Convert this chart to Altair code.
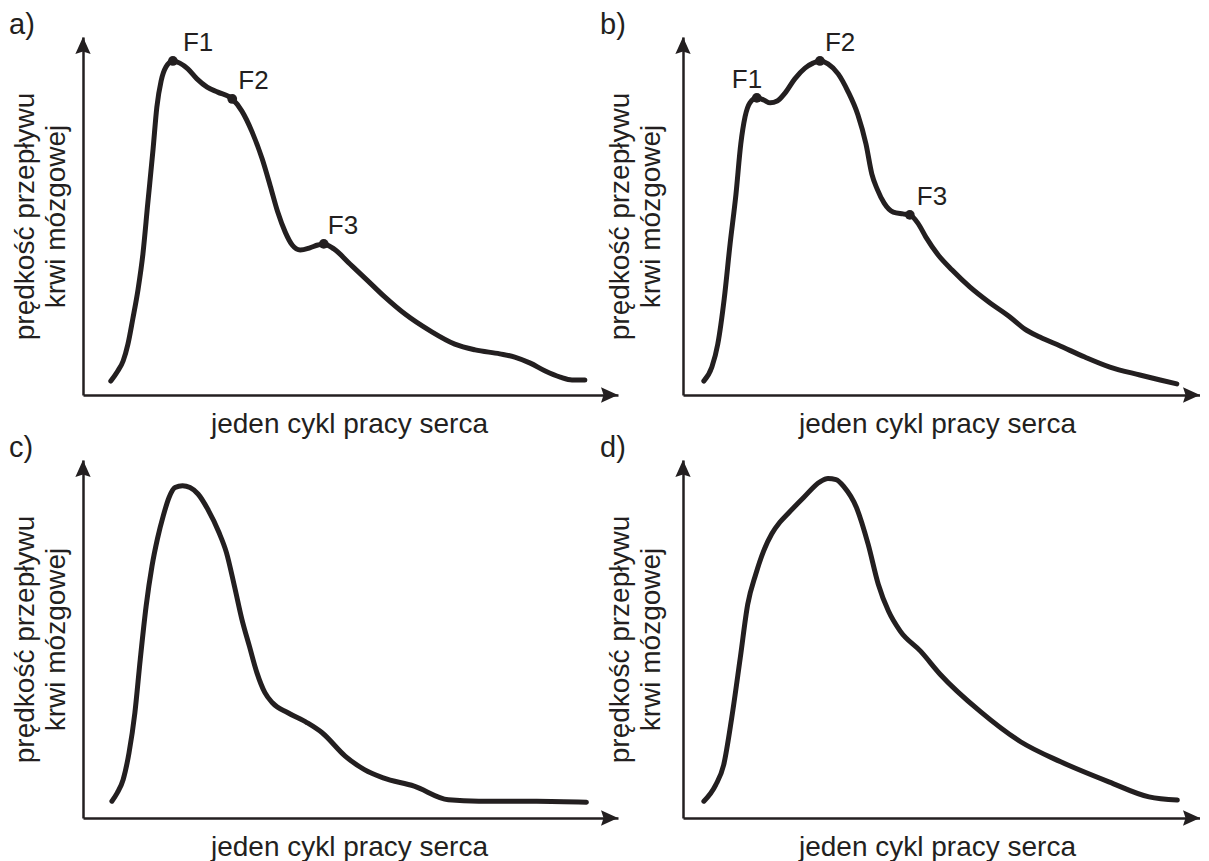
import altair as alt
import pandas as pd

FONT = "Liberation Sans"
INK = "#231f20"

# ---------------- data (x: % of heart cycle, y: relative flow velocity) ----------------
a_x = [5.2, 6.5, 7.5, 8.4, 9.3, 10.3, 11.2, 12.1, 13.1, 13.8, 14.6, 15.5, 16.8, 18.1, 19.6,
       21.3, 23.2, 25.2, 27.9, 29.7, 31.6, 33.5, 35.0, 36.4, 37.8, 39.1, 40.6, 42.4, 43.9,
       45.0, 46.9, 49.9, 53.1, 56.4, 60.2, 64.9, 69.5, 73.3, 77.9, 80.7, 83.6, 86.4, 89.2,
       91.4, 93.8]
a_y = [3.9, 6.7, 9.5, 14.2, 21.2, 29.6, 39.4, 53.4, 68.7, 80.4, 87.7, 91.6, 93.3, 92.7, 91.1,
       88.3, 86.0, 84.6, 82.7, 79.3, 73.5, 65.9, 58.4, 51.1, 45.5, 41.9, 40.5, 41.1, 41.9,
       42.2, 40.8, 36.6, 32.1, 27.4, 22.6, 17.9, 14.2, 12.6, 11.5, 10.6, 8.9, 6.7, 5.0,
       4.2, 4.2]
a_fx = [16.8, 27.9, 45.0]
a_fy = [93.3, 82.7, 42.2]
a_flab = ["F1", "F2", "F3"]

b_x = [3.9, 5.4, 6.5, 7.7, 8.8, 9.9, 10.8, 11.6, 12.5, 13.8, 15.1, 16.3, 17.6, 19.1, 20.9,
       22.8, 24.3, 25.6, 27.1, 29.0, 30.8, 32.7, 34.2, 35.3, 36.3, 37.6, 39.3, 41.1, 42.4,
       43.9, 45.4, 47.7, 50.3, 53.6, 57.4, 61.1, 63.9, 66.7, 70.5, 75.1, 79.8, 85.4, 89.2,
       92.3]
b_y = [3.9, 7.8, 14.2, 26.8, 42.2, 56.1, 70.1, 77.7, 81.6, 83.0, 82.4, 81.6, 82.1, 84.4, 88.3,
       91.3, 92.7, 93.3, 92.5, 89.7, 84.9, 78.2, 70.1, 61.7, 57.5, 53.6, 51.1, 50.6, 50.3,
       48.0, 44.1, 39.1, 34.9, 30.2, 25.7, 21.8, 18.4, 16.2, 13.7, 10.6, 7.8, 5.6, 4.2,
       3.1]
b_fx = [13.8, 25.6, 42.4]
b_fy = [83.0, 93.3, 50.3]
b_flab = ["F1", "F2", "F3"]

c_x = [5.4, 6.4, 7.5, 8.6, 9.7, 10.7, 11.8, 12.9, 13.9, 15.0, 16.1, 17.2, 18.6, 20.0, 21.5,
       23.3, 25.4, 26.8, 28.3, 29.7, 31.1, 32.5, 34.0, 35.4, 38.3, 41.9, 44.7, 49.0, 52.6,
       56.1, 61.9, 68.3, 74.0, 84.8, 94.1]
c_y = [4.7, 7.0, 10.7, 18.2, 29.4, 44.3, 59.2, 70.4, 77.9, 84.4, 89.6, 92.3, 92.8, 92.3, 90.5,
       86.3, 79.8, 74.2, 64.8, 55.5, 48.0, 40.6, 35.0, 32.2, 29.4, 26.6, 23.8, 17.3, 13.5,
       11.2, 8.9, 5.1, 4.7, 4.7, 4.4]

d_x = [3.9, 6.1, 7.6, 9.1, 10.7, 12.1, 13.6, 15.1, 16.6, 18.1, 19.6, 22.6, 25.6, 27.1, 28.6,
       30.1, 32.4, 34.6, 36.5, 38.4, 40.6, 44.4, 48.1, 55.6, 63.1, 70.6, 79.6, 87.1, 92.4]
d_y = [4.7, 9.2, 14.8, 27.9, 44.7, 59.7, 68.1, 74.7, 79.4, 82.6, 85.0, 89.6, 93.9, 94.8, 94.5,
       92.5, 86.8, 76.5, 65.3, 57.8, 52.2, 46.6, 40.1, 29.7, 21.3, 15.7, 10.1, 5.9, 5.0]

X_TITLE = "jeden cykl pracy serca"
Y_TITLE = ["prędkość przepływu", "krwi mózgowej"]

UP = "M0,0L0.9,2L0,1.7L-0.9,2Z"
RIGHT = "M0,0L-2,-0.9L-1.7,0L-2,0.9Z"

H = 358


def panel(letter, xs, ys, width, xmax, fx=None, fy=None, flab=None, fdx=None,
          ypad=15, titlex=266, letter_dx=-74):
    df = pd.DataFrame({"x": xs, "y": ys, "i": list(range(len(xs)))})
    xsc = alt.Scale(domain=[0, xmax], nice=False, zero=False)
    ysc = alt.Scale(domain=[0, 100], nice=False, zero=False)
    xax = alt.Axis(title=X_TITLE, labels=False, ticks=False, grid=False,
                   domainColor=INK, domainWidth=2.5,
                   titleFont=FONT, titleFontSize=28, titleFontWeight="normal",
                   titleColor=INK, titlePadding=15, titleX=titlex)
    yax = alt.Axis(title=Y_TITLE, labels=False, ticks=False, grid=False,
                   domainColor=INK, domainWidth=2.5,
                   titleFont=FONT, titleFontSize=28, titleFontWeight="normal",
                   titleColor=INK, titlePadding=ypad, titleLineHeight=31)
    X = alt.X("x:Q", scale=xsc, axis=xax)
    Y = alt.Y("y:Q", scale=ysc, axis=yax)

    line = alt.Chart(df).mark_line(color=INK, strokeWidth=5, interpolate="monotone",
                                   strokeCap="round").encode(x=X, y=Y, order="i:Q")
    up = alt.Chart(pd.DataFrame({"x": [0], "y": [100]})).mark_point(
        shape=UP, size=289, filled=True, color=INK, opacity=1).encode(x=X, y=Y)
    right = alt.Chart(pd.DataFrame({"x": [xmax], "y": [0]})).mark_point(
        shape=RIGHT, size=289, filled=True, color=INK, opacity=1).encode(x=X, y=Y)
    lab = alt.Chart(pd.DataFrame({"t": [letter]})).mark_text(
        align="left", baseline="alphabetic", font=FONT, fontSize=29, color=INK
    ).encode(x=alt.value(letter_dx), y=alt.value(-3), text="t:N")
    layers = [line, up, right, lab]
    if fx is not None:
        fdf = pd.DataFrame({"x": fx, "y": fy, "t": flab})
        dots = alt.Chart(fdf).mark_circle(size=95, color=INK, opacity=1).encode(x=X, y=Y)
        layers.append(dots)
        for k in range(len(fx)):
            t = alt.Chart(fdf.iloc[[k]]).mark_text(
                align="left", baseline="alphabetic", font=FONT, fontSize=26, color=INK,
                dx=fdx[k], dy=-10).encode(x=X, y=Y, text="t:N")
            layers.append(t)
    return alt.layer(*layers).properties(width=width, height=H)


W_L = 535
W_R = 517
XMAX_R = 100 * W_R / W_L

pa = panel("a)", a_x, a_y, W_L, 100, a_fx, a_fy, a_flab, [10, 6, 4], ypad=13, titlex=266, letter_dx=-74)
pb = panel("b)", b_x, b_y, W_R, XMAX_R, b_fx, b_fy, b_flab, [-25, 5, 7], ypad=18, titlex=254, letter_dx=-83)
pc = panel("c)", c_x, c_y, W_L, 100, ypad=13, titlex=266, letter_dx=-74)
pd_ = panel("d)", d_x, d_y, W_R, XMAX_R, ypad=18, titlex=254, letter_dx=-83)

chart = alt.concat(pa, pb, pc, pd_, columns=2, spacing=65, bounds="flush").properties(
    padding={"left": 1, "top": 3, "right": 0, "bottom": 0}
).configure_view(stroke=None)

chart.save("out.html", embed_options={"renderer": "svg", "actions": False})
